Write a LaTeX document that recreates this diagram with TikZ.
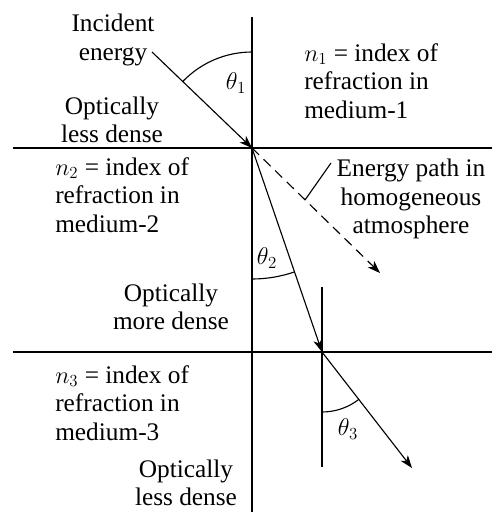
\documentclass[tikz,border=0pt]{standalone}
\usepackage{fontspec}
\setmainfont{Liberation Serif}
\usetikzlibrary{arrows.meta,positioning}

\begin{document}
\begin{tikzpicture}[x=0.025cm,y=-0.025cm,
  txt/.style={font=\fontsize{18}{20.3}\selectfont,inner sep=0pt,align=center},
  lft/.style={txt,align=left,anchor=west},
  bnd/.style={line width=0.8pt},
  ray/.style={line width=0.8pt,-{Stealth[length=9pt,width=6.5pt,inset=2.5pt]}},
  dray/.style={ray,dash pattern=on 7pt off 4.5pt}]
\useasboundingbox (0,0) rectangle (492,512);
% boundaries and normals
\coordinate (O1) at (252,148);
\coordinate (O2) at (322,352);
\coordinate (inc) at (152,52);
\coordinate (dashEnd) at (380,273);
\coordinate (out3) at (412,468);
\draw[bnd] (252,17) -- (252,512);
\draw[bnd] (13,148) -- (492,148);
\draw[bnd] (13,352) -- (492,352);
\draw[bnd] (322,287) -- (322,467);
% rays
\draw[ray] (inc) -- (O1);
\draw[ray] (O1) -- (O2);
\draw[dray] (O1) -- (dashEnd);
\draw[ray] (O2) -- (out3);
% angles
\draw[bnd] (O1) ++(0,-96) arc[start angle=-90,end angle=-136,radius=96];
\draw[bnd] (O1) ++(0,131) arc[start angle=90,end angle=71,radius=131];
\draw[bnd] (O2) ++(0,60) arc[start angle=90,end angle=52,radius=60];
\node[txt] (t1) at (236,83) {$\theta_1$};
\node[txt] (t2) at (267,258) {$\theta_2$};
\node[txt] (t3) at (348,429) {$\theta_3$};
% labels
\node[txt] (incident) at (113,40) {Incident\\energy};
\node[txt] (less1) at (112,120) {Optically\\less dense};
\node[lft] (n1) at (304,81) {$n_1$ = index of\\refraction in\\medium-1};
\node[lft] (n2) at (55,195) {$n_2$ = index of\\refraction in\\medium-2};
\node[txt] (more) at (171,307) {Optically\\more dense};
\node[txt] (path) at (411,199) {Energy path in\\homogeneous\\atmosphere};
\node[lft] (n3) at (55,403) {$n_3$ = index of\\refraction in\\medium-3};
\node[txt] (less2) at (186,483) {Optically\\less dense};
\coordinate (leadA) at (305,200);
\coordinate (leadB) at (331,163);
\draw[bnd] (leadA) -- (leadB);
\end{tikzpicture}
\end{document}
